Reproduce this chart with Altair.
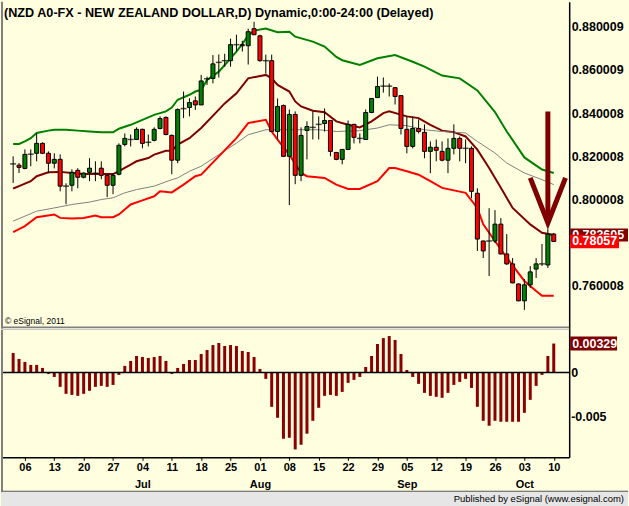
import altair as alt
import pandas as pd

title_text = "(NZD A0-FX - NEW ZEALAND DOLLAR,D) Dynamic,0:00-24:00 (Delayed)"
copyright_text = "\u00a9 eSignal, 2011"
footer_text = "Published by eSignal (www.esignal.com)"

# daily candles, trading-day index 0 = 2 Jun 2011 ... 92 = 10 Oct 2011
opens = [0.8165, 0.8159, 0.8144, 0.8210, 0.8214, 0.8260, 0.8214, 0.8168, 0.8186, 0.8062,
         0.8066, 0.8135, 0.8103, 0.8126, 0.8122, 0.8145, 0.8112, 0.8066, 0.8117, 0.8255,
         0.8278, 0.8278, 0.8325, 0.8265, 0.8274, 0.8329, 0.8380, 0.8297, 0.8182, 0.8421,
         0.8426, 0.8457, 0.8438, 0.8559, 0.8561, 0.8635, 0.8643, 0.8643, 0.8717, 0.8717,
         0.8712, 0.8791, 0.8758, 0.8643, 0.8643, 0.8315, 0.8435, 0.8200, 0.8394, 0.8112,
         0.8320, 0.8334, 0.8348, 0.8352, 0.8366, 0.8218, 0.8186, 0.8232, 0.8348, 0.8283,
         0.8278, 0.8403, 0.8472, 0.8525, 0.8525, 0.8518, 0.8481, 0.8325, 0.8246, 0.8329,
         0.8311, 0.8223, 0.8242, 0.8223, 0.8182, 0.8237, 0.8283, 0.8237, 0.8237, 0.8029,
         0.7808, 0.7808, 0.7808, 0.7886, 0.7748, 0.7702, 0.7609, 0.7531, 0.7605, 0.7678,
         0.7702, 0.7697, 0.7840]
highs = [0.8200, 0.8169, 0.8232, 0.8232, 0.8306, 0.8265, 0.8223, 0.8214, 0.8209, 0.8075,
         0.8140, 0.8145, 0.8126, 0.8191, 0.8177, 0.8177, 0.8115, 0.8122, 0.8260, 0.8306,
         0.8301, 0.8334, 0.8328, 0.8301, 0.8334, 0.8385, 0.8385, 0.8301, 0.8422, 0.8500,
         0.8469, 0.8477, 0.8577, 0.8569, 0.8669, 0.8672, 0.8675, 0.8745, 0.8763, 0.8735,
         0.8791, 0.8823, 0.8763, 0.8671, 0.8671, 0.8468, 0.8440, 0.8417, 0.8408, 0.8334,
         0.8362, 0.8408, 0.8385, 0.8422, 0.8368, 0.8220, 0.8234, 0.8366, 0.8350, 0.8306,
         0.8417, 0.8470, 0.8569, 0.8565, 0.8537, 0.8520, 0.8483, 0.8385, 0.8385, 0.8371,
         0.8348, 0.8269, 0.8278, 0.8269, 0.8283, 0.8348, 0.8292, 0.8278, 0.8246, 0.8052,
         0.7810, 0.7960, 0.7951, 0.7914, 0.7840, 0.7729, 0.7612, 0.7632, 0.7692, 0.7729,
         0.7794, 0.7863, 0.7845]
lows = [0.8077, 0.8123, 0.8140, 0.8154, 0.8177, 0.8210, 0.8122, 0.8144, 0.8038, 0.7978,
        0.8038, 0.8052, 0.8098, 0.8085, 0.8085, 0.8094, 0.8011, 0.8025, 0.8112, 0.8246,
        0.8246, 0.8276, 0.8237, 0.8246, 0.8269, 0.8325, 0.8297, 0.8117, 0.8168, 0.8377,
        0.8385, 0.8415, 0.8438, 0.8531, 0.8538, 0.8565, 0.8615, 0.8615, 0.8685, 0.8685,
        0.8625, 0.8763, 0.8638, 0.8583, 0.8313, 0.8278, 0.8198, 0.7974, 0.8071, 0.8085,
        0.8186, 0.8278, 0.8278, 0.8315, 0.8200, 0.8182, 0.8163, 0.8230, 0.8260, 0.8260,
        0.8276, 0.8400, 0.8470, 0.8495, 0.8477, 0.8440, 0.8301, 0.8214, 0.8237, 0.8306,
        0.8191, 0.8122, 0.8177, 0.8177, 0.8122, 0.8209, 0.8177, 0.8168, 0.8006, 0.7762,
        0.7729, 0.7646, 0.7799, 0.7746, 0.7697, 0.7612, 0.7529, 0.7489, 0.7591, 0.7637,
        0.7692, 0.7683, 0.7806]
closes = [0.8165, 0.8149, 0.8209, 0.8210, 0.8260, 0.8214, 0.8168, 0.8186, 0.8062, 0.8062,
          0.8126, 0.8103, 0.8122, 0.8145, 0.8122, 0.8112, 0.8066, 0.8112, 0.8251, 0.8283,
          0.8278, 0.8325, 0.8260, 0.8265, 0.8325, 0.8375, 0.8301, 0.8182, 0.8417, 0.8421,
          0.8449, 0.8438, 0.8549, 0.8559, 0.8628, 0.8635, 0.8643, 0.8717, 0.8717, 0.8712,
          0.8777, 0.8763, 0.8643, 0.8643, 0.8315, 0.8431, 0.8200, 0.8394, 0.8112, 0.8297,
          0.8338, 0.8334, 0.8348, 0.8366, 0.8223, 0.8186, 0.8232, 0.8348, 0.8288, 0.8283,
          0.8403, 0.8468, 0.8523, 0.8525, 0.8525, 0.8477, 0.8329, 0.8246, 0.8329, 0.8315,
          0.8223, 0.8242, 0.8228, 0.8182, 0.8237, 0.8283, 0.8237, 0.8237, 0.8038, 0.7817,
          0.7762, 0.7808, 0.7886, 0.7748, 0.7702, 0.7614, 0.7531, 0.7605, 0.7665, 0.7702,
          0.7702, 0.7840, 0.78057]

# oscillator histogram
hist = [0.00222, 0.00155, 0.00121, 0.00087, 0.00087, 0.00053, -0.00015, -0.00049, -0.00161, -0.00240,
        -0.00252, -0.00263, -0.00240, -0.00206, -0.00161, -0.00150, -0.00161, -0.00139, -0.00026, 0.00076,
        0.00132, 0.00188, 0.00177, 0.00166, 0.00177, 0.00188, 0.00132, -0.00015, 0.00053, 0.00098,
        0.00143, 0.00143, 0.00211, 0.00256, 0.00312, 0.00335, 0.00301, 0.00312, 0.00301, 0.00245,
        0.00233, 0.00177, 0.00042, -0.00071, -0.00387, -0.00511, -0.00748, -0.00737, -0.00869, -0.00816,
        -0.00691, -0.00545, -0.00398, -0.00263, -0.00252, -0.00263, -0.00218, -0.00116, -0.00082, -0.00049,
        0.00064, 0.00188, 0.00324, 0.00391, 0.00414, 0.00369, 0.00211, 0.00030, -0.00049, -0.00127,
        -0.00229, -0.00263, -0.00274, -0.00285, -0.00229, -0.00139, -0.00105, -0.00071, -0.00173, -0.00387,
        -0.00545, -0.00601, -0.00545, -0.00556, -0.00556, -0.00556, -0.00556, -0.00455, -0.00308, -0.00150,
        -0.00026, 0.00188, 0.00329]

# band lines (index, value)
upper_idx = [0, 1, 2, 3, 4, 6, 7, 9, 11, 13, 15, 17, 18, 20, 22, 24, 26, 27, 28, 30, 31, 32, 33, 35, 36, 38,
             39, 40, 41, 43, 45, 47, 48, 51, 53, 55, 56, 59, 62, 65, 68, 70, 73, 76, 79, 82, 84, 87, 90, 92]
upper_val = [0.8257, 0.8257, 0.8269, 0.8284, 0.8308, 0.8319, 0.8323, 0.8323, 0.8319, 0.8315, 0.8311, 0.8311,
             0.8328, 0.8346, 0.8369, 0.8392, 0.8408, 0.8426, 0.8462, 0.8485, 0.8500, 0.8508, 0.8554, 0.8592,
             0.8623, 0.8685, 0.8720, 0.8760, 0.8782, 0.8792, 0.8775, 0.8777, 0.8754, 0.8731, 0.8708, 0.8660,
             0.8645, 0.8623, 0.8654, 0.8669, 0.8638, 0.8615, 0.8574, 0.8561, 0.8505, 0.8405, 0.8315, 0.8195,
             0.8139, 0.8123]
mid_idx = [0, 1, 3, 4, 6, 8, 10, 12, 14, 17, 18, 20, 21, 23, 24, 26, 27, 28, 30, 32, 35, 36, 38, 40, 43, 44,
           45, 47, 48, 49, 51, 53, 55, 57, 59, 61, 63, 64, 67, 69, 71, 73, 75, 77, 79, 81, 83, 85, 88, 90, 92]
mid_val = [0.8051, 0.8062, 0.8085, 0.8108, 0.8126, 0.8128, 0.8123, 0.8118, 0.8118, 0.8118, 0.8131, 0.8162,
           0.8177, 0.8192, 0.8208, 0.8226, 0.8226, 0.8254, 0.8284, 0.8331, 0.8416, 0.8445, 0.8492, 0.8561,
           0.8577, 0.8561, 0.8531, 0.8500, 0.8454, 0.8431, 0.8411, 0.8404, 0.8362, 0.8346, 0.8334, 0.8362,
           0.8400, 0.8408, 0.8385, 0.8377, 0.8346, 0.8319, 0.8312, 0.8292, 0.8231, 0.8146, 0.8054, 0.7961,
           0.7885, 0.7846, 0.7836]
slow_idx = [0, 2, 4, 7, 10, 13, 15, 17, 19, 21, 24, 27, 28, 30, 32, 35, 38, 40, 43, 46, 49, 52, 55, 59, 62,
            64, 67, 70, 73, 77, 79, 82, 84, 87, 90, 92]
slow_val = [0.7900, 0.7923, 0.7946, 0.7961, 0.7977, 0.7988, 0.8000, 0.8008, 0.8031, 0.8046, 0.8062, 0.8092,
            0.8100, 0.8131, 0.8154, 0.8208, 0.8261, 0.8300, 0.8323, 0.8323, 0.8323, 0.8323, 0.8315, 0.8319,
            0.8331, 0.8346, 0.8342, 0.8323, 0.8315, 0.8308, 0.8269, 0.8215, 0.8169, 0.8123, 0.8092, 0.8069]
lower_idx = [0, 2, 4, 7, 8, 10, 12, 14, 15, 17, 18, 20, 22, 24, 25, 27, 29, 31, 32, 35, 38, 40, 43, 44, 45,
             47, 49, 50, 53, 55, 57, 59, 62, 64, 65, 67, 69, 71, 73, 77, 79, 80, 82, 84, 87, 89, 90, 92]
lower_val = [0.7849, 0.7877, 0.7918, 0.7931, 0.7915, 0.7912, 0.7915, 0.7926, 0.7918, 0.7918, 0.7931, 0.7977,
             0.7996, 0.8015, 0.8038, 0.8033, 0.8069, 0.8108, 0.8115, 0.8200, 0.8284, 0.8354, 0.8369, 0.8315,
             0.8277, 0.8208, 0.8123, 0.8108, 0.8100, 0.8069, 0.8049, 0.8049, 0.8085, 0.8146, 0.8146, 0.8131,
             0.8115, 0.8085, 0.8054, 0.8031, 0.7961, 0.7885, 0.7808, 0.7731, 0.7623, 0.7577, 0.7554, 0.7554]

# annotation arrow (index, price)
arrow_shaft_idx = [91, 91]
arrow_shaft_val = [0.8408, 0.7892]
arrow_head_idx = [88, 91, 94]
arrow_head_val = [0.8100, 0.7892, 0.8100]

# axis ticks
price_ticks = [0.760008, 0.800008, 0.820008, 0.840008, 0.860009, 0.880009]
osc_ticks = [0, -0.005]
osc_tick_labels = ["0", "-0.005"]
tick_idx = [2 + 5 * k for k in range(19)]
tick_days = ["06", "13", "20", "27", "04", "11", "18", "25", "01", "08", "15", "22", "29",
             "05", "12", "19", "26", "03", "10"]
tick_months = ["", "", "", "", "Jul", "", "", "", "Aug", "", "", "", "", "Sep", "", "", "", "Oct", ""]

# last-value labels
mid_label = "0.783605"
close_label = "0.78057"
osc_label = "0.00329"

FONT = "Liberation Sans"
W, H = 570, 457
BG = "#FFFFE0"

n = len(opens)
cdf = pd.DataFrame({"i": list(range(n)), "o": opens, "h": highs, "l": lows, "c": closes})
cdf["kind"] = ["up" if c > o else ("down" if c < o else "flat") for o, c in zip(opens, closes)]

x_scale = alt.Scale(domain=[-1.22, 93.78], nice=False, zero=False)
# price pane occupies the upper part, oscillator pane the lower part of one plot area
price_scale = alt.Scale(domain=[0.680627, 0.891547], nice=False, zero=False)
osc_scale = alt.Scale(domain=[-0.009586, 0.041953], nice=False, zero=False)

price_axis = alt.Axis(orient="right", values=price_ticks, format=".6f", title=None, ticks=False,
                      grid=False, domainColor="black", domainWidth=1.5, labelFont=FONT,
                      labelFontWeight="bold", labelFontSize=12.5, labelColor="black", labelPadding=2)

x_expr = ("[" + ",".join(f"['{d}','{m}']" for d, m in zip(tick_days, tick_months)) +
          "][round((datum.value - 2) / 5)]")
x_axis = alt.Axis(values=tick_idx, labelExpr=x_expr, title=None, grid=False, tickSize=3,
                  tickColor="black", domainColor="black", domainWidth=1.5, labelFont=FONT,
                  labelFontWeight="bold", labelFontSize=11, labelColor="black", labelLineHeight=17,
                  labelPadding=1, labelFlush=False, labelOverlap=False)


def X():
    return alt.X("i:Q", scale=x_scale, axis=x_axis)


def YP(f, with_axis=False):
    return alt.Y(f"{f}:Q", scale=price_scale, axis=price_axis if with_axis else None)


def YO(f):
    return alt.Y(f"{f}:Q", scale=osc_scale, axis=None)


def line_layer(ix, vals, color, width):
    df = pd.DataFrame({"i": ix, "v": vals})
    return alt.Chart(df).mark_line(color=color, strokeWidth=width, clip=True).encode(x=X(), y=YP("v"))


one = pd.DataFrame({"a": [0]})

left_border = alt.Chart(one).mark_rule(color="#808080", strokeWidth=2).encode(
    x=alt.value(1), y=alt.value(0), y2=alt.value(491))
sep_dark = alt.Chart(one).mark_rule(color="#808080", strokeWidth=1.5).encode(
    x=alt.value(0), x2=alt.value(W), y=alt.value(326.5))
sep_light = alt.Chart(one).mark_rule(color="#C8C8C8", strokeWidth=1.5).encode(
    x=alt.value(0), x2=alt.value(W), y=alt.value(328.5))

upper = line_layer(upper_idx, upper_val, "#008000", 2)
mid = line_layer(mid_idx, mid_val, "#800000", 2)
slow = line_layer(slow_idx, slow_val, "#808080", 1)
lower = line_layer(lower_idx, lower_val, "#FF0000", 2)

wicks = alt.Chart(cdf).mark_rule(color="black", strokeWidth=1).encode(
    x=X(), y=YP("l", with_axis=True), y2="h:Q")
bodies = alt.Chart(cdf).transform_filter("datum.kind != 'flat'").mark_bar(
    size=4, stroke="black", strokeWidth=1).encode(
    x=X(), y=YP("o"), y2="c:Q",
    color=alt.Color("kind:N", scale=alt.Scale(domain=["up", "down"], range=["#008000", "#FF0000"]),
                    legend=None))
dojis = alt.Chart(cdf).transform_filter("datum.kind == 'flat'").mark_tick(
    orient="horizontal", size=6, thickness=1.5, color="black").encode(x=X(), y=YP("o"))

shaft = alt.Chart(pd.DataFrame({"i": arrow_shaft_idx, "v": arrow_shaft_val})).mark_line(
    color="#800000", strokeWidth=5, clip=True).encode(x=X(), y=YP("v"))
head = alt.Chart(pd.DataFrame({"i": arrow_head_idx, "v": arrow_head_val})).mark_line(
    color="#800000", strokeWidth=5, strokeJoin="miter", clip=True).encode(x=X(), y=YP("v"))

hdf = pd.DataFrame({"i": list(range(n)), "h": hist})
bars = alt.Chart(hdf).mark_bar(size=3, color="#8B0000").encode(x=X(), y=YO("h"), y2=alt.datum(0))
zero = alt.Chart(one).mark_rule(color="black", strokeWidth=1.5).encode(
    x=alt.value(2), x2=alt.value(W), y=alt.YDatum(0, scale=osc_scale, axis=None))

osc_labels = alt.Chart(pd.DataFrame({"v": osc_ticks, "t": osc_tick_labels})).mark_text(
    align="left", baseline="middle", font=FONT, fontWeight="bold", fontSize=12.5, color="black").encode(
    x=alt.value(W + 2), y=YO("v"), text="t:N")

title = alt.Chart(pd.DataFrame({"t": [title_text]})).mark_text(
    align="left", baseline="middle", font=FONT, fontWeight="bold", fontSize=12.7, color="black").encode(
    x=alt.value(3), y=alt.value(11), text="t:N")
copyright_mark = alt.Chart(pd.DataFrame({"t": [copyright_text]})).mark_text(
    align="left", baseline="middle", font=FONT, fontSize=8.5, color="black").encode(
    x=alt.value(4), y=alt.value(320), text="t:N")


def value_tag(val, text, bg, x2, ychan, half):
    df = pd.DataFrame({"v": [val], "t": [text]})
    base = alt.Chart(df).transform_calculate(vt=f"datum.v + {half}", vb=f"datum.v - {half}")
    r = base.mark_rect(color=bg).encode(x=alt.value(W + 1), x2=alt.value(x2), y=ychan("vt"), y2="vb:Q")
    t = base.mark_text(align="left", baseline="middle", font=FONT, fontWeight="bold", fontSize=12.5,
                       color="white").encode(x=alt.value(W + 3), y=ychan("v"), text="t:N")
    return [r, t]


tags = (value_tag(mid_val[-1], mid_label, "#800000", 629, YP, 0.0030) +
        value_tag(closes[-1], close_label, "#FF0000", 620, YP, 0.0031) +
        value_tag(hist[-1], osc_label, "#800000", 618, YO, 0.00079))

footer_rect = alt.Chart(one).mark_rect(color="#E6E6E6").encode(
    x=alt.value(0), x2=alt.value(629), y=alt.value(491), y2=alt.value(506))
footer_line = alt.Chart(one).mark_rule(color="#555555", strokeWidth=1).encode(
    x=alt.value(0), x2=alt.value(629), y=alt.value(491))
footer = alt.Chart(pd.DataFrame({"t": [footer_text]})).mark_text(
    align="right", baseline="middle", font=FONT, fontSize=9.5, color="black").encode(
    x=alt.value(625), y=alt.value(499), text="t:N")

chart = alt.layer(
    left_border, sep_dark, sep_light, upper, mid, slow, lower, shaft, head,
    wicks, bodies, dojis, bars, zero, osc_labels, title, copyright_mark, *tags,
    footer_rect, footer_line, footer
).resolve_scale(y="independent").properties(
    width=W, height=H, padding=0, background=BG
).configure_view(stroke="transparent")

chart.save("out.html", embed_options={"renderer": "svg", "actions": False})
